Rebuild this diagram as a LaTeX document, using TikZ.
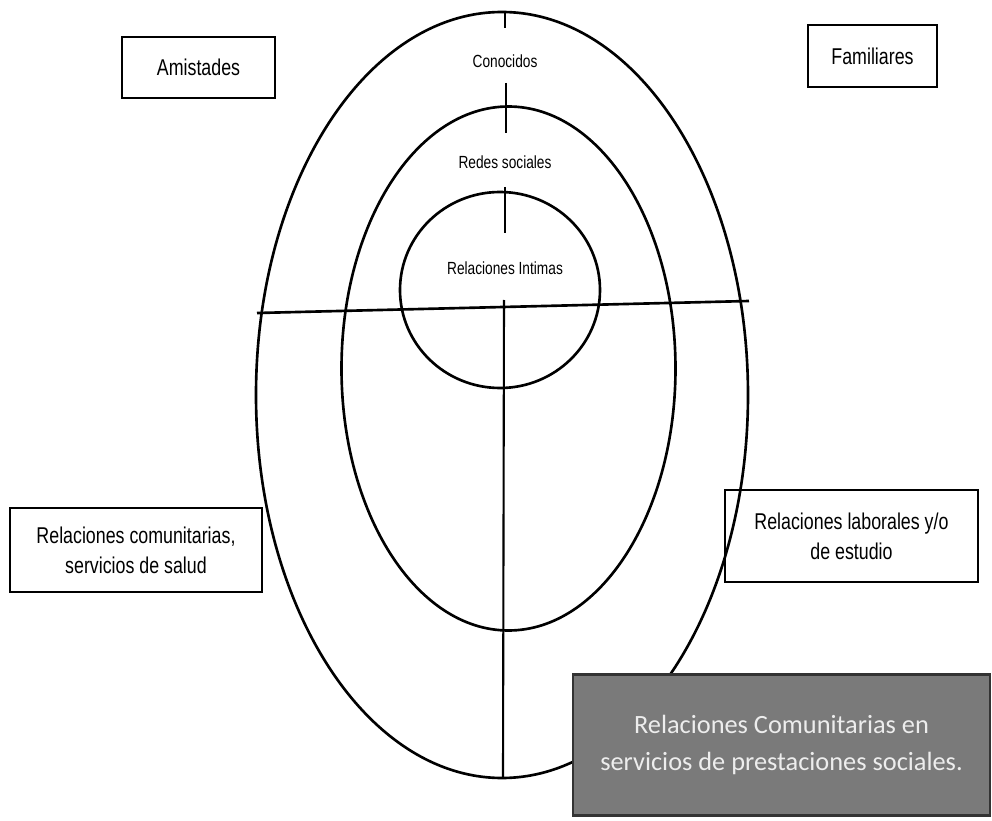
\documentclass[tikz,border=0pt]{standalone}
\usepackage{fontspec}
\setmainfont{Liberation Sans}
\newfontfamily\narrowsf[FakeStretch=0.78]{Liberation Sans}
\newfontfamily\calibrisf{Carlito}
\usepackage{tikz}
\usetikzlibrary{positioning}

\begin{document}
\begin{tikzpicture}[x=0.02cm, y=-0.02cm,
    ring/.style={line width=1.5pt},
    tick/.style={line width=1.2pt},
    tag/.style={draw, line width=1pt, align=center, inner sep=0pt,
        font=\narrowsf\fontsize{13}{17}\selectfont},
    lbl/.style={inner sep=1pt, font=\narrowsf\fontsize{10}{12}\selectfont}]
    \useasboundingbox (0,0) rectangle (992,821);
    \draw[ring] (502,395) ellipse (246 and 383);
    \draw[ring] (508.5,368.5) ellipse (167 and 262);
    \draw[ring] (500,290) ellipse (100 and 98);
    \coordinate (west) at (257,313);
    \coordinate (east) at (749,301);
    \draw[ring] (west) -- (east);
    \coordinate (top) at (505,12);
    \coordinate (topb) at (505,28);
    \coordinate (mida) at (506,83);
    \coordinate (midb) at (506,133);
    \coordinate (inna) at (505,187);
    \coordinate (innb) at (505,233);
    \coordinate (low) at (504,300);
    \coordinate (bottom) at (503,778);
    \draw[tick] (top) -- (topb);
    \draw[tick] (mida) -- (midb);
    \draw[tick] (inna) -- (innb);
    \draw[tick] (low) -- (bottom);
    \node[lbl] (conocidos) at (505,61) {Conocidos};
    \node[lbl] (redes) at (505,162) {Redes sociales};
    \node[lbl] (intimas) at (505,268) {Relaciones Intimas};
    \node[tag, minimum width=3.06cm, minimum height=1.22cm] (amistades) at (198.5,67.5) {Amistades};
    \node[tag, minimum width=2.58cm, minimum height=1.24cm] (familiares) at (872.5,56) {Familiares};
    \node[tag, minimum width=5.04cm, minimum height=1.68cm] (comunitarias) at (136,550)
        {Relaciones comunitarias,\\ servicios de salud};
    \node[tag, minimum width=5.06cm, minimum height=1.84cm] (laborales) at (851.5,536)
        {Relaciones laborales y/o\\ de estudio};
    \node[draw=black!80, line width=1.2pt, fill=black!52, text=black!7, align=center,
        minimum width=8.34cm, minimum height=2.82cm, inner sep=0pt,
        font=\calibrisf\fontsize{15}{21}\selectfont] (prestaciones) at (781.5,745)
        {Relaciones Comunitarias en\\ servicios de prestaciones sociales.};
\end{tikzpicture}
\end{document}
